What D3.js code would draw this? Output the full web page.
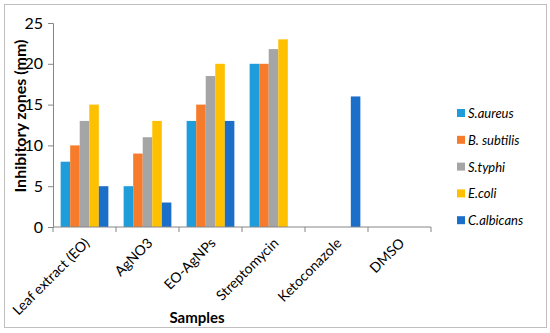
<!DOCTYPE html>
<html>
<head>
<meta charset="utf-8">
<script src="https://cdn.jsdelivr.net/npm/d3@7"></script>
<style>
  body { margin: 0; background: #fff; }
  text { font-family: Lato, "Open Sans", sans-serif; fill: #000; }
</style>
</head>
<body>
<view></view>
<script>
var samples = ["Leaf extract (EO)", "AgNO3", "EO-AgNPs", "Streptomycin", "Ketoconazole", "DMSO"];
var organisms = ["S.aureus", "B. subtilis", "S.typhi", "E.coli", "C.albicans"];
var saureus = [8, 5, 13, 20, 0, 0];
var bsubtilis = [10, 9, 15, 20, 0, 0];
var styphi = [13, 11, 18.5, 21.8, 0, 0];
var ecoli = [15, 13, 20, 23, 0, 0];
var calbicans = [5, 3, 13, 0, 16, 0];
var yTicks = [0, 5, 10, 15, 20, 25];

var seriesValues = [saureus, bsubtilis, styphi, ecoli, calbicans];
var colors = ["#1f9ddb", "#f67c2b", "#a5a5a5", "#ffc000", "#1b6fc8"];

var margin = {top: 23, right: 119, bottom: 106, left: 53},
    width = 550 - margin.left - margin.right,
    height = 333 - margin.top - margin.bottom;

var svg = d3.select("view")
    .append("svg")
    .attr("width", 550)
    .attr("height", 333);

// outer frame
svg.append("rect")
    .attr("x", 4.5).attr("y", 4.5)
    .attr("width", 542).attr("height", 323)
    .attr("fill", "none")
    .attr("stroke", "#bfbfbf");

var g = svg.append("g")
    .attr("transform", "translate(" + margin.left + "," + margin.top + ")");

var x = d3.scaleBand()
    .domain(samples)
    .range([0, width])
    .paddingInner(0)
    .paddingOuter(0);

var xs = d3.scaleBand()
    .domain(organisms)
    .range([0, x.bandwidth()])
    .paddingInner(0)
    .paddingOuter(0.8);

var y = d3.scaleLinear()
    .domain([0, 25])
    .range([height, 0]);

var groups = g.selectAll(".grp")
    .data(samples)
    .enter().append("g")
    .attr("transform", function(d) { return "translate(" + x(d) + ",0)"; });

groups.selectAll("rect")
    .data(function(d, i) {
        return organisms.map(function(o, j) { return {o: o, v: seriesValues[j][i], c: colors[j]}; });
    })
    .enter().append("rect")
    .attr("x", function(d) { return xs(d.o); })
    .attr("width", xs.bandwidth())
    .attr("y", function(d) { return y(d.v); })
    .attr("height", function(d) { return height - y(d.v); })
    .attr("fill", function(d) { return d.c; });

// y axis
var yAxis = g.append("g")
    .call(d3.axisLeft(y).tickValues(yTicks).tickSize(5).tickPadding(5));
yAxis.select(".domain").attr("stroke", "#868686");
yAxis.selectAll(".tick line").attr("stroke", "#868686");
yAxis.selectAll(".tick text").attr("font-size", 16).attr("fill", "#000");

// x axis
var xAxisG = g.append("g")
    .attr("transform", "translate(0," + height + ")");
xAxisG.append("line")
    .attr("x1", 0).attr("x2", width)
    .attr("stroke", "#868686");
xAxisG.selectAll(".tk")
    .data(d3.range(samples.length + 1))
    .enter().append("line")
    .attr("x1", function(i) { return i * x.step(); })
    .attr("x2", function(i) { return i * x.step(); })
    .attr("y1", 0).attr("y2", 5)
    .attr("stroke", "#868686");
xAxisG.selectAll(".lbl")
    .data(samples)
    .enter().append("text")
    .attr("text-anchor", "end")
    .attr("font-size", 14)
    .attr("transform", function(d) {
        return "translate(" + (x(d) + x.bandwidth() / 2 + 6) + ",17) rotate(-45)";
    })
    .text(function(d) { return d; });

// axis titles
svg.append("text")
    .attr("transform", "translate(26,116) rotate(-90)")
    .attr("text-anchor", "middle")
    .attr("font-size", 16)
    .attr("font-weight", "bold")
    .text("Inhibitory zones (mm)");

svg.append("text")
    .attr("x", 197)
    .attr("y", 323)
    .attr("text-anchor", "middle")
    .attr("font-size", 15)
    .attr("font-weight", "bold")
    .text("Samples");

// legend
var legend = svg.append("g")
    .attr("transform", "translate(457,113)");
var item = legend.selectAll("g")
    .data(organisms)
    .enter().append("g")
    .attr("transform", function(d, i) { return "translate(0," + (i * 26.8) + ")"; });
item.append("rect")
    .attr("x", 0).attr("y", -4)
    .attr("width", 8).attr("height", 8)
    .attr("fill", function(d, i) { return colors[i]; });
item.append("text")
    .attr("x", 11)
    .attr("y", 5)
    .attr("font-size", 13)
    .attr("font-style", "italic")
    .text(function(d) { return d; });
</script>
</body>
</html>
